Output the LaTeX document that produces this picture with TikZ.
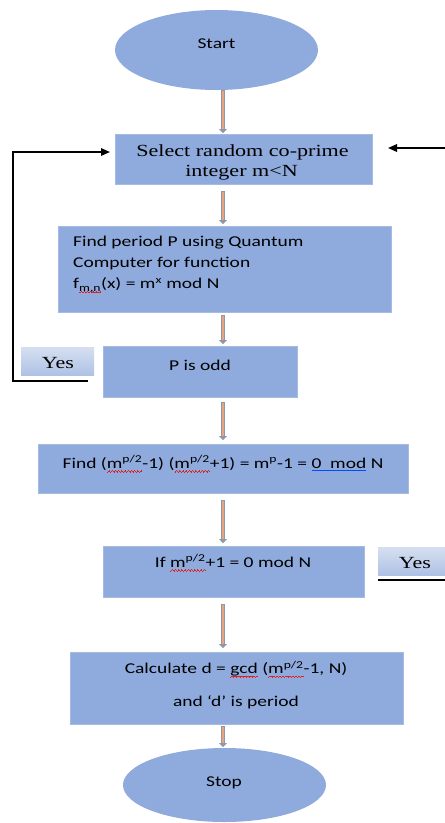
\documentclass[tikz,border=0pt]{standalone}
\usepackage{fontspec}
\setmainfont{Carlito}[FakeStretch=1.3]
\newfontfamily\serifT{Liberation Serif}[FakeStretch=1.3]
\usepackage{xcolor}
\usetikzlibrary{shapes.geometric,arrows.meta,calc}
\definecolor{boxblue}{HTML}{8FAADC}
\definecolor{boxedge}{HTML}{A6BBE2}
\definecolor{arrowin}{HTML}{E8A47C}
\definecolor{arrowout}{HTML}{8D98AC}
\definecolor{yestop}{HTML}{D5DFF0}
\definecolor{yesbot}{HTML}{AFC2E5}
\definecolor{spellred}{HTML}{E02020}
\newsavebox\wavebox
\newcommand\waveunit{\hbox{\rule[-4.2pt]{0.75pt}{0.7pt}\rule[-3.5pt]{0.75pt}{0.7pt}\rule[-2.8pt]{0.75pt}{0.7pt}\rule[-3.5pt]{0.75pt}{0.7pt}}}
\newcommand\spellwave[1]{\sbox\wavebox{#1}\rlap{\hbox to\wd\wavebox{\color{spellred}\xleaders\waveunit\hfil}}\usebox\wavebox}
\newcommand\blueuline[1]{\sbox\wavebox{#1}\rlap{\textcolor{blue!70!cyan}{\rule[-2.8pt]{\wd\wavebox}{0.9pt}}}\usebox\wavebox}
\newcommand\flowlink[4]{%
  \draw[flowout,shorten <=#3,shorten >=#4] (#1.south -| spine) -- (#2.north -| spine);
  \draw[flowin,shorten <=#3+0.8pt,shorten >=#4+3.6pt] (#1.south -| spine) -- (#2.north -| spine);}
\begin{document}
\begin{tikzpicture}[x=1pt,y=-1pt,
  box/.style={draw=boxedge,line width=0.6pt,fill=boxblue,inner sep=0pt,outer sep=0pt},
  term/.style={ellipse,fill=boxblue,draw=none,inner sep=0pt,outer sep=0pt},
  yesbox/.style={draw=none,top color=yestop,middle color=white!85!yestop,bottom color=yesbot,inner sep=0pt,outer sep=0pt},
  sans/.style={font=\fontsize{15}{18}\selectfont,inner sep=0pt},
  serif/.style={font=\serifT\fontsize{17}{20}\selectfont,inner sep=0pt},
  flowout/.style={draw=arrowout,line width=4.6pt,-{Triangle[length=4pt,width=8pt]}},
  flowin/.style={draw=arrowin,line width=2pt},
  fb/.style={draw=black,line width=1.6pt},
  fbarrow/.style={draw=black,line width=1.6pt,-{Triangle[length=9pt,width=7.5pt]}}]
\useasboundingbox (0,0) rectangle (445,823);
\coordinate (spine) at (223,0);
% shapes
\node[term,minimum width=203pt,minimum height=80pt] (start) at (216.5,50) {};
\node[box,minimum width=257pt,minimum height=50pt] (select) at (243.5,159) {};
\node[box,minimum width=333pt,minimum height=86pt] (period) at (224.5,269) {};
\node[box,minimum width=194pt,minimum height=51pt] (podd) at (200,371.5) {};
\node[yesbox,minimum width=73pt,minimum height=28pt] (yesL) at (57.5,361) {};
\node[box,minimum width=370pt,minimum height=49pt] (find) at (223,468.5) {};
\node[box,minimum width=261pt,minimum height=51pt] (ifbox) at (233.5,571.5) {};
\node[yesbox,minimum width=70pt,minimum height=28pt] (yesR) at (413,561) {};
\node[box,minimum width=333pt,minimum height=72pt] (calc) at (236.5,688) {};
\node[term,minimum width=203pt,minimum height=74pt] (stop) at (224.5,785) {};
% texts
\node[sans] (startT) at (216.5,44) {Start};
\node[serif] (selT1) at (242.5,152) {Select random co-prime};
\node[serif] (selT2) at (241.5,173) {integer m<N};
\node[sans,anchor=west] (perT1) at (73,243) {Find period P using Quantum};
\node[sans,anchor=west] (perT2) at (73,264) {Computer for function};
\node[sans,anchor=west] (perT3) at (73,285.5) {f\spellwave{\textsubscript{m,n}}(x) = m\textsuperscript{x} mod N};
\node[sans] (poddT) at (200,365) {P is odd};
\node[serif] (yesLT) at (58,363.5) {Yes};
\node[sans] (findT) at (223,464) {Find (\spellwave{m\textsuperscript{p/2}}-1) (\spellwave{m\textsuperscript{p/2}}+1) = m\textsuperscript{p}-1 = \blueuline{0\ \ mod} N};
\node[sans] (ifT) at (233,563) {If \spellwave{m\textsuperscript{p/2}}+1 = 0 mod N};
\node[serif] (yesRT) at (415,563) {Yes};
\node[sans] (calcT1) at (236,669.5) {Calculate d = \spellwave{gcd} (\spellwave{m\textsuperscript{p/2}}-1, N)};
\node[sans] (calcT2) at (236,702) {and ‘d’ is period};
\node[sans] (stopT) at (224,783) {Stop};
% vertical flow arrows
\flowlink{start}{select}{0pt}{1pt}
\flowlink{select}{period}{7pt}{2pt}
\flowlink{period}{podd}{3pt}{2pt}
\flowlink{podd}{find}{5pt}{4pt}
\flowlink{find}{ifbox}{7pt}{3pt}
\flowlink{ifbox}{calc}{7pt}{4pt}
\flowlink{calc}{stop}{2pt}{1pt}
% feedback loop (Yes from P is odd)
\coordinate (loopstart) at (88,381);
\coordinate (loopcorner) at (13,381);
\draw[fbarrow] (loopstart) -- (loopcorner) |- ($(select.west)+(-5,-7)$);
% incoming arrow from right
\coordinate (rightin) at (446,148);
\draw[fbarrow] (rightin) -- ($(select.east)+(16,-11)$);
% underline of right Yes
\coordinate (yesRl) at (378,580);
\coordinate (yesRr) at (446,580);
\draw[fb] (yesRl) -- (yesRr);
\end{tikzpicture}
\end{document}
